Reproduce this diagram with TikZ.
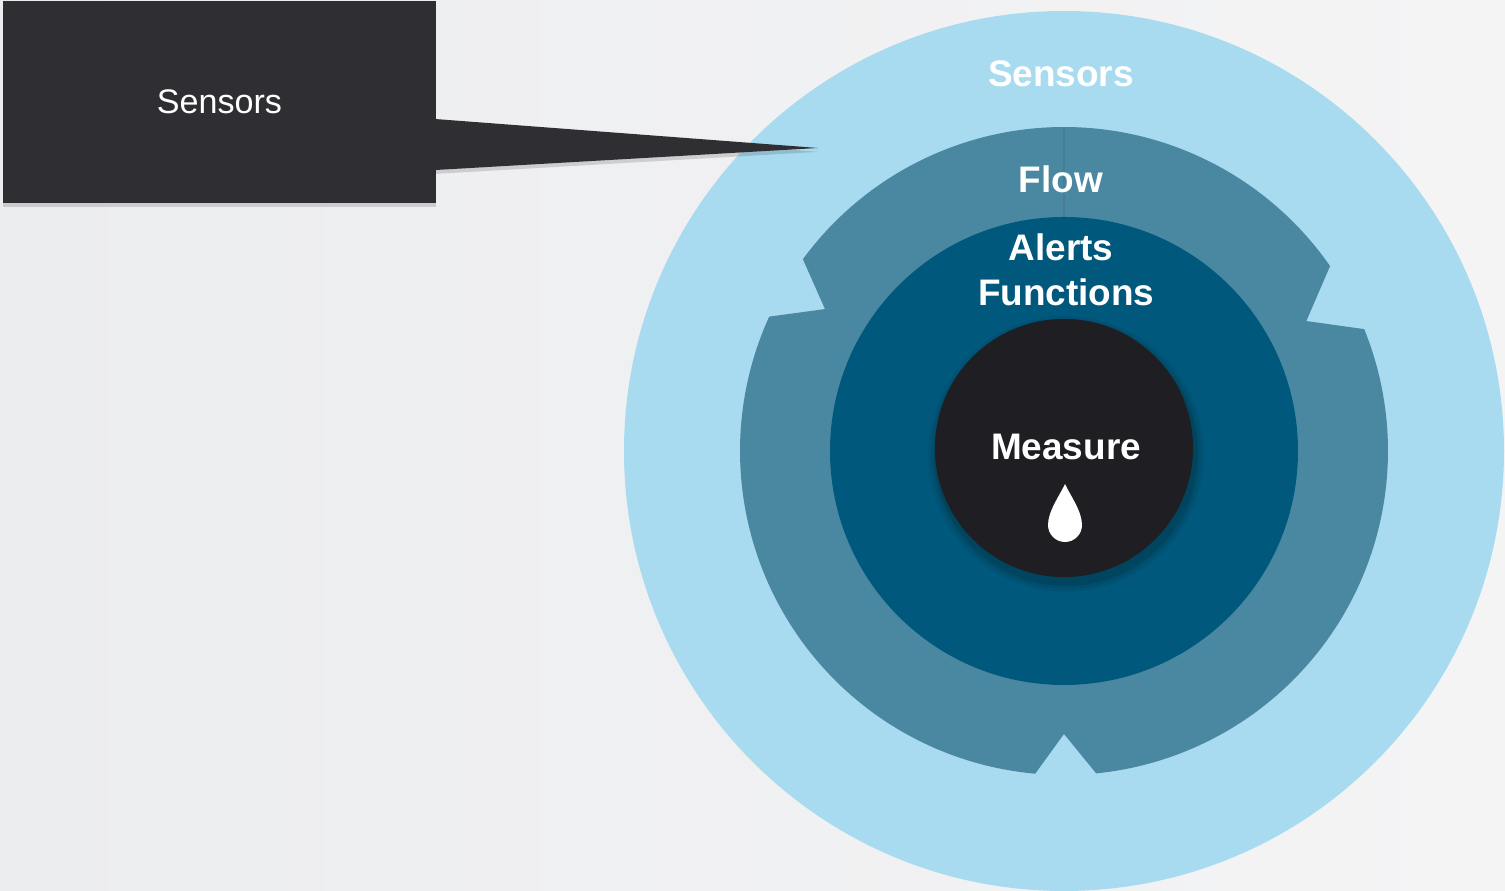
\documentclass[tikz,border=0pt]{standalone}
\usepackage{fontspec}
\setmainfont{Liberation Sans}
\usetikzlibrary{calc,shadows}
\definecolor{skyring}{HTML}{A8DBF0}
\definecolor{flowring}{HTML}{4A88A2}
\definecolor{alertring}{HTML}{00587C}
\definecolor{measurecore}{HTML}{1F1F23}
\definecolor{calloutgray}{HTML}{2F2E33}
\definecolor{bgleft}{HTML}{ECEDEF}
\definecolor{bgright}{HTML}{F4F4F5}
\tikzset{
  ringlabel/.style={text=white, font=\fontsize{10.5}{12.8}\selectfont\bfseries, align=center, inner sep=0pt},
  calloutbox/.style={fill=calloutgray, text=white, minimum width=4.33cm, minimum height=2.02cm, inner sep=0pt, font=\fontsize{9.7}{11}\selectfont},
  softshadow/.style={drop shadow={shadow xshift=0pt, shadow yshift=-1.1pt, opacity=0.14, fill=black}}
}
\begin{document}
\begin{tikzpicture}[x=0.01cm,y=0.01cm]
    \useasboundingbox (0,0) rectangle (1505,891);
    % background
    \shade[left color=bgleft, right color=bgright] (0,0) rectangle (1505,891);
    \coordinate (C) at (1064,440);
    % sensors ring
     \fill[skyring] (C) circle[radius=440];
    % flow ring, three notches
     \fill[flowring] ($(C)+(34.8:324)$) arc[start angle=34.8, end angle=143.7, radius=324]
        -- ($(C)+(149.3:278)$) -- ($(C)+(155.5:324)$) arc[start angle=155.5, end angle=264.9, radius=324]
        -- ($(C)+(270:283)$) -- ($(C)+(275.7:324)$) arc[start angle=275.7, end angle=382.1, radius=324]
        -- ($(C)+(28.2:275)$) -- cycle;
     \draw[flowring!92!black, line width=0.3pt] ($(C)+(90:234)$) -- ($(C)+(90:324)$);
    % alerts / functions
     \fill[alertring] (C) circle[radius=234];
    % measure core
     \foreach \s/\o in {9/0.05,6/0.07,3/0.1}
        \fill[black, opacity=\o] (1066,437) circle[radius=129+\s];
     \node[circle, fill=measurecore, minimum size=2.58cm, inner sep=0pt] (core) at (1064,443) {};
     \fill[white] (1065,407) .. controls (1060,396) and (1048,380) .. (1048,366)
        arc[start angle=180, end angle=360, radius=17] .. controls (1082,380) and (1070,396) .. (1065,407);

     \node[ringlabel] (sensorslabel) at (1061,817) {Sensors};
     \node[ringlabel] (flowlabel) at (1061,712) {Flow};
     \node[ringlabel] (alertslabel) at (1061,621) {Alerts\\\hspace*{3pt}Functions};
     \node[ringlabel] (measurelabel) at (1066,444) {Measure};

    % callout
     \node[calloutbox, softshadow] (callout) at (219.5,789) {\raisebox{-0.6pt}{Sensors}};
     \coordinate (tip) at (818,743);
     \fill[calloutgray, softshadow] ([xshift=-0.5pt,yshift=-0.17cm]callout.east) -- (tip) -- ([xshift=-0.5pt,yshift=-0.68cm]callout.east) -- cycle;
\end{tikzpicture}
\end{document}
